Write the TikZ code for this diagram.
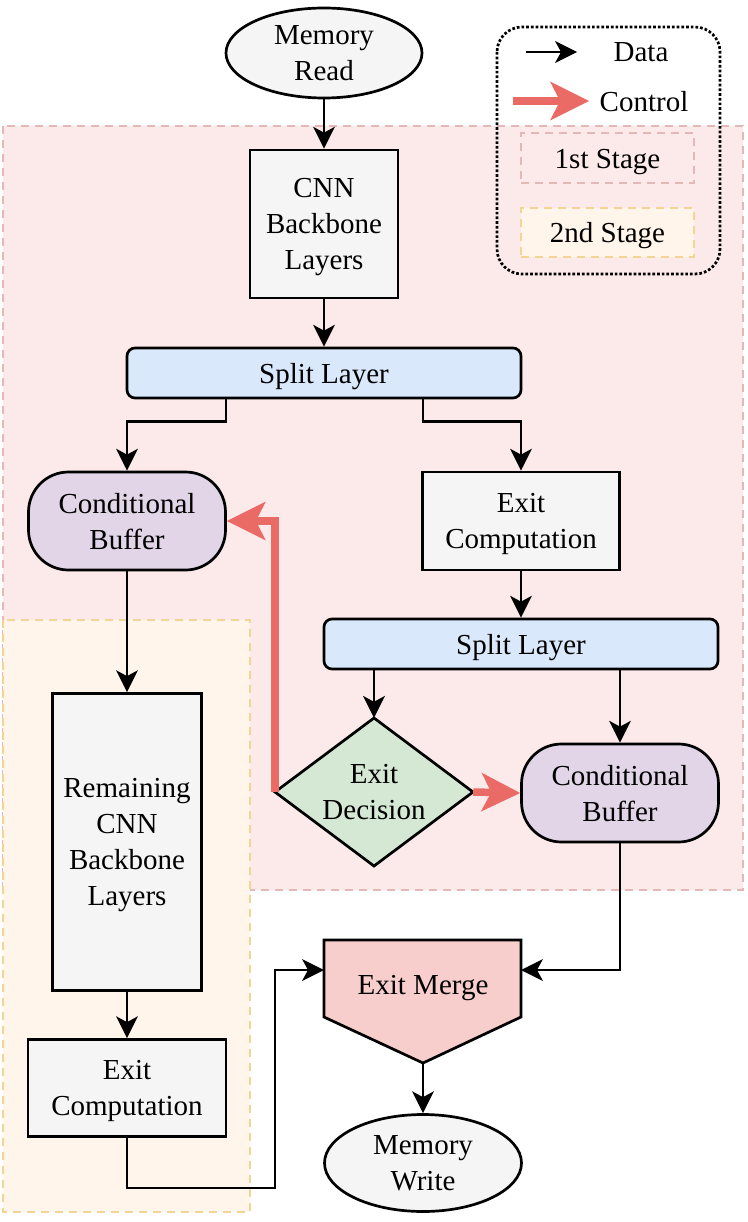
\documentclass[tikz,border=0pt]{standalone}
\usepackage{fontspec}
\setmainfont{Liberation Serif}
\usetikzlibrary{shapes.geometric,arrows.meta,calc}
\definecolor{grayfill}{HTML}{F5F5F5}
\definecolor{bluefill}{HTML}{DAE8FC}
\definecolor{purplefill}{HTML}{E1D5E7}
\definecolor{greenfill}{HTML}{D5E8D4}
\definecolor{redfill}{HTML}{F8CECC}
\definecolor{ctrlred}{HTML}{EA6B66}
\definecolor{stageonefill}{HTML}{FCEAEA}
\definecolor{stageoneline}{HTML}{E3B9B8}
\definecolor{stagetwofill}{HTML}{FFF5EA}
\definecolor{stagetwoline}{HTML}{F2D592}
\begin{document}
\begin{tikzpicture}[x=1pt,y=-1pt,
  font=\fontsize{29}{36}\selectfont,
  base/.style={draw=black, line width=2.7pt, align=center, inner sep=0pt, text depth=0pt},
  graybox/.style={base, rectangle, fill=grayfill},
  splitbox/.style={base, rectangle, rounded corners=8pt, fill=bluefill, minimum width=394pt, minimum height=50pt},
  bufbox/.style={base, rectangle, rounded corners=40pt, fill=purplefill, minimum width=197pt, minimum height=98pt},
  memell/.style={base, ellipse, fill=grayfill},
  data/.style={draw=black, line width=2.7pt, -{Stealth[length=22pt,width=22pt,inset=6pt,line width=0pt]}},
  ctrl/.style={draw=ctrlred, line width=7.5pt, -{Stealth[length=39pt,width=39pt,inset=10pt,line width=0pt]}},
  stageone/.style={draw=stageoneline, fill=stageonefill, line width=2pt, dash pattern=on 8pt off 6pt},
  stagetwo/.style={draw=stagetwoline, fill=stagetwofill, line width=2pt, dash pattern=on 8pt off 6pt},
  plain/.style={inner sep=0pt, align=center, text depth=0pt}
]
\useasboundingbox (0,0) rectangle (747,1222);

% stage regions
\path[stageone] (3,126) rectangle (743,890);
\path[stagetwo] (3,620) rectangle (250,1212);

% legend
\draw[black, line width=2.7pt, dotted, rounded corners=25pt] (497,27) rectangle (720,274);
\coordinate (ldA) at (526,52);
\coordinate (ldB) at (577,52);
\draw[data] (ldA) -- (ldB);
\node[plain] (ldata) at (641,52) {Data};
\coordinate (lcA) at (513,101);
\coordinate (lcB) at (589,101);
\draw[ctrl] (lcA) -- (lcB);
\node[plain] (lctrl) at (644,101) {Control};
\node[stageone, minimum width=173pt, minimum height=50pt, inner sep=0pt, text depth=0pt] (lone) at (607.5,158.5) {1st Stage};
\node[stagetwo, minimum width=173pt, minimum height=49pt, inner sep=0pt, text depth=0pt] (ltwo) at (607.5,232.5) {2nd Stage};

% nodes
\node[memell, minimum width=196pt, minimum height=90pt] (mr) at (324,53) {Memory\\Read};
\node[graybox, minimum width=148pt, minimum height=148pt] (cnn) at (324,224) {CNN\\Backbone\\Layers};
\node[splitbox] (sp1) at (324,373) {Split Layer};
\node[bufbox] (cb1) at (127,521) {Conditional\\Buffer};
\node[graybox, minimum width=197pt, minimum height=98pt] (ec1) at (521,521) {Exit\\Computation};
\node[splitbox] (sp2) at (521,644) {Split Layer};
\path[base, fill=greenfill] (374,718) -- (473,792) -- (374,866) -- (275,792) -- cycle;
\node[plain, minimum width=198pt, minimum height=148pt] (dec) at (374,792) {Exit\\Decision};
\node[bufbox] (cb2) at (620,793) {Conditional\\Buffer};
\node[graybox, minimum width=149pt, minimum height=297pt] (rem) at (127,842) {Remaining\\CNN\\Backbone\\Layers};
\node[graybox, minimum width=198pt, minimum height=97pt] (ec2) at (127,1088) {Exit\\Computation};
\path[base, fill=redfill] (324,940) -- (521,940) -- (521,1017) -- (423,1063) -- (324,1017) -- cycle;
\node[plain] (emtxt) at (423,985) {Exit Merge};
\coordinate (emL) at (324,970);
\coordinate (emR) at (521,970);
\coordinate (emB) at (423,1063);
\node[memell, minimum width=197pt, minimum height=97pt] (mw) at (423,1163) {Memory\\Write};

% data connectors
\draw[data] (mr.south) -- (cnn.north);
\draw[data] (cnn.south) -- (sp1.north);
\draw[data] ([xshift=-98pt]sp1.south) -- ++(0,22) -| (cb1.north);
\draw[data] ([xshift=99pt]sp1.south) -- ++(0,22) -| (ec1.north);
\draw[data] (ec1.south) -- (sp2.north);
\draw[data] (dec.north |- sp2.south) -- (dec.north);
\draw[data] (cb2.north |- sp2.south) -- (cb2.north);
\draw[data] (cb1.south) -- (rem.north);
\draw[data] (rem.south) -- (ec2.north);
\draw[data] (ec2.south) -- ++(0,50) -- ++(148,0) |- (emL);
\draw[data] (cb2.south) |- (emR);
\draw[data] (emB) -- (mw.north);

% control connectors
\draw[ctrl] (dec.east) -- (cb2.west);
\draw[ctrl] (dec.west) |- (cb1.east);
\end{tikzpicture}
\end{document}
